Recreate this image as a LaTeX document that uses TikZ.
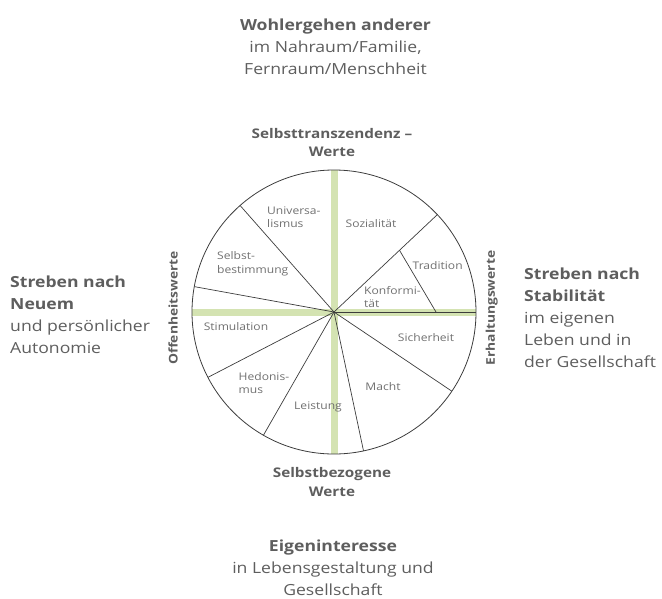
\documentclass[tikz,border=0pt]{standalone}
\usepackage{fontspec}
\setmainfont{Open Sans}[FakeStretch=1.15]
\usetikzlibrary{calc}
\definecolor{txt}{HTML}{5E5E5E}
\definecolor{inner}{HTML}{707070}
\definecolor{grn}{HTML}{D4E3B2}
\definecolor{ln}{HTML}{3C3C3C}
\begin{document}
\begin{tikzpicture}[x=1pt,y=-1pt,
  big/.style={inner sep=0pt, text=txt, align=center, font=\fontsize{15.3}{22}\selectfont},
  axis/.style={inner sep=0pt, text=txt, align=center, font=\fontsize{13.3}{18.5}\selectfont\bfseries},
  rotaxis/.style={inner sep=0pt, text=txt, font=\fontsize{12}{14}\selectfont\bfseries, rotate=90},
  seg/.style={inner sep=0pt, text=inner, font=\fontsize{10.5}{13.5}\selectfont},
  spoke/.style={draw=ln, line width=0.7pt},
  bar/.style={draw=grn, line width=7pt}]
\useasboundingbox (0,0) rectangle (662,598);
\coordinate (C) at (334,312);
% green bars
\coordinate (T) at ($(C)+(90:142pt)$);
\coordinate (B) at ($(C)+(270:142pt)$);
\coordinate (L) at ($(C)+(180:142pt)$);
\coordinate (R) at ($(C)+(0:142pt)$);
\draw[bar] (T) -- (B);
\draw[bar] (L) -- (R);
% radii
\foreach \a/\n in {131.4/p1,43.3/p2,169.7/p3,207.4/p4,240.2/p5,282/p6,326.1/p7,0/p8}{
  \coordinate (\n) at ($(C)+(\a:142pt)$);
  \draw[spoke] (C) -- (\n);
}
\coordinate (k1) at ($(C)+(43.3:90pt)$);
\coordinate (k2) at ($(C)+(0:102pt)$);
\draw[spoke] (k1) -- (k2);
\draw[ln, line width=0.8pt] (C) circle[radius=142pt];
% segment labels
\node[seg, anchor=west, align=left] (univ) at (267,217) {Universa-\\lismus};
\node[seg] (soz) at (371,224) {Sozialität};
\node[seg, anchor=west, align=left] (selbst) at (217,264) {Selbst-\\bestimmung};
\node[seg] (trad) at (437.7,266) {Tradition};
\node[seg, anchor=west, align=left] (konf) at (364,297) {Konformi-\\tät};
\node[seg] (stim) at (236,326.7) {Stimulation};
\node[seg] (sich) at (426,337.7) {Sicherheit};
\node[seg, anchor=west, align=left] (hedo) at (238.5,383.3) {Hedonis-\\mus};
\node[seg] (macht) at (383,386.7) {Macht};
\node[seg] (leist) at (318,407) {Leistung};
% axis labels
\node[axis] (top) at (332,142.5) {Selbsttranszendenz –\\Werte};
\node[axis] (bot) at (332,482) {Selbstbezogene\\Werte};
\node[rotaxis] (erh) at (491.7,308) {Erhaltungswerte};
\node[rotaxis] (off) at (173,308) {Offenheitswerte};
% outer labels
\node[big] (wohl) at (335.5,47) {\textbf{Wohlergehen anderer}\\im Nahraum/Familie,\\Fernraum/Menschheit};
\node[big] (eigen) at (333,567.5) {\textbf{Eigeninteresse}\\in Lebensgestaltung und\\Gesellschaft};
\node[big, anchor=west, align=left] (neu) at (10,314.5) {\textbf{Streben nach}\\\textbf{Neuem}\\und persönlicher\\Autonomie};
\node[big, anchor=west, align=left] (stab) at (524,317.5) {\textbf{Streben nach}\\\textbf{Stabilität}\\im eigenen\\Leben und in\\der Gesellschaft};
\end{tikzpicture}
\end{document}
